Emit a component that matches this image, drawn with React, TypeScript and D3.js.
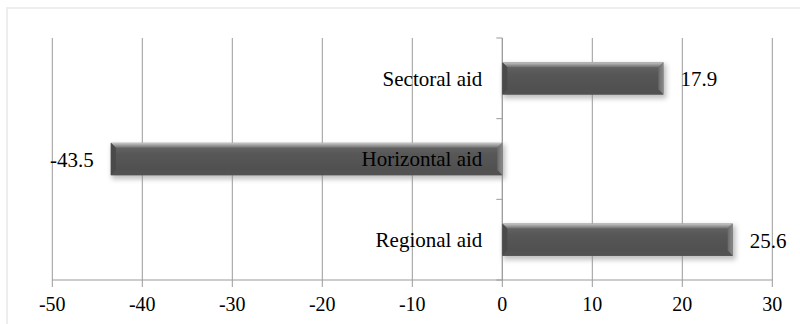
import React from "react";
import * as d3 from "d3";

const categories = ["Sectoral aid", "Horizontal aid", "Regional aid"];
const values = [17.9, -43.5, 25.6];
const valueLabels = ["17.9", "-43.5", "25.6"];
const xTicks = [-50, -40, -30, -20, -10, 0, 10, 20, 30];

const W = 800;
const H = 324;
const FONT = "'Liberation Serif', 'DejaVu Serif', serif";

export default function App() {
  const x = d3.scaleLinear().domain([-50, 30]).range([52.3, 772.3]);
  const y = d3
    .scaleBand<string>()
    .domain(categories)
    .range([38, 280])
    .paddingInner(0.6)
    .paddingOuter(0.3);
  const step = y.step();
  const bw = y.bandwidth();
  const x0 = x(0);
  const bev = 5;
  const bandEdges = d3.range(categories.length + 1).map((i) => 38 + i * step);

  return (
    <svg
      width={W}
      height={H}
      style={{ position: "absolute", left: 0, top: 0, background: "#fff" }}
    >
      <defs>
        <linearGradient id="face" x1="0" y1="0" x2="0" y2="1">
          <stop offset="0" stopColor="#6a6a6a" />
          <stop offset="0.35" stopColor="#575757" />
          <stop offset="1" stopColor="#4e4e4e" />
        </linearGradient>
        <linearGradient id="topBev" x1="0" y1="0" x2="0" y2="1">
          <stop offset="0" stopColor="#c8c8c8" />
          <stop offset="1" stopColor="#6e6e6e" />
        </linearGradient>
        <linearGradient id="rightBev" x1="0" y1="0" x2="1" y2="0">
          <stop offset="0" stopColor="#6a6a6a" />
          <stop offset="1" stopColor="#8a8a8a" />
        </linearGradient>
        <filter id="shadow" x="-10%" y="-50%" width="120%" height="200%">
          <feGaussianBlur stdDeviation="2.5" />
        </filter>
      </defs>

      {/* outer chart border */}
      <rect x={7} y={8} width={W + 10} height={H + 10} fill="#fff" stroke="#eeeeee" strokeWidth={2} />

      {/* gridlines */}
      {xTicks.map((t) => (
        <line
          key={"g" + t}
          x1={x(t)}
          x2={x(t)}
          y1={38}
          y2={287}
          stroke="#9a9a9a"
          strokeWidth={1}
        />
      ))}

      {/* x axis line */}
      <line x1={x(-50)} x2={x(30)} y1={280} y2={280} stroke="#9a9a9a" strokeWidth={1} />

      {/* y axis at zero with category boundary ticks */}
      <line x1={x0} x2={x0} y1={38} y2={280} stroke="#9a9a9a" strokeWidth={1} />
      {bandEdges.map((e, i) => (
        <line key={"yt" + i} x1={x0 - 6} x2={x0} y1={e} y2={e} stroke="#9a9a9a" strokeWidth={1} />
      ))}

      {/* bars */}
      {categories.map((c, i) => {
        const v = values[i];
        const xa = Math.min(x(v), x0);
        const xb = Math.max(x(v), x0);
        const ya = y(c)!;
        const yb = ya + bw;
        return (
          <g key={"bar" + c}>
            <rect
              x={xa + 1}
              y={ya + 2}
              width={xb - xa + 2}
              height={bw + 2}
              fill="#8c8c8c"
              opacity={0.55}
              filter="url(#shadow)"
            />
            <rect x={xa} y={ya} width={xb - xa} height={bw} fill="url(#face)" />
            {/* top bevel */}
            <polygon
              points={`${xa},${ya} ${xb},${ya} ${xb - bev},${ya + bev} ${xa + bev},${ya + bev}`}
              fill="url(#topBev)"
            />
            {/* left bevel */}
            <polygon
              points={`${xa},${ya} ${xa + bev},${ya + bev} ${xa + bev},${yb - bev} ${xa},${yb}`}
              fill="#4a4a4a"
            />
            {/* right bevel */}
            <polygon
              points={`${xb},${ya} ${xb},${yb} ${xb - bev},${yb - bev} ${xb - bev},${ya + bev}`}
              fill="url(#rightBev)"
            />
            {/* bottom bevel */}
            <polygon
              points={`${xa},${yb} ${xa + bev},${yb - bev} ${xb - bev},${yb - bev} ${xb},${yb}`}
              fill="#525252"
            />
          </g>
        );
      })}

      {/* category labels */}
      {categories.map((c) => (
        <text
          key={"cl" + c}
          x={x0 - 20}
          y={y(c)! + bw / 2}
          dy="0.35em"
          textAnchor="end"
          fontFamily={FONT}
          fontSize={21}
          fill="#000"
        >
          {c}
        </text>
      ))}

      {/* value labels */}
      {categories.map((c, i) => {
        const v = values[i];
        const pos = v >= 0;
        return (
          <text
            key={"vl" + c}
            x={pos ? x(v) + 17 : x(v) - 17}
            y={y(c)! + bw / 2}
            dy="0.38em"
            textAnchor={pos ? "start" : "end"}
            fontFamily={FONT}
            fontSize={21}
            fill="#000"
          >
            {valueLabels[i]}
          </text>
        );
      })}

      {/* x tick labels */}
      {xTicks.map((t) => (
        <text
          key={"tl" + t}
          x={x(t)}
          y={311}
          textAnchor="middle"
          fontFamily={FONT}
          fontSize={20}
          fill="#000"
        >
          {String(t)}
        </text>
      ))}
    </svg>
  );
}
